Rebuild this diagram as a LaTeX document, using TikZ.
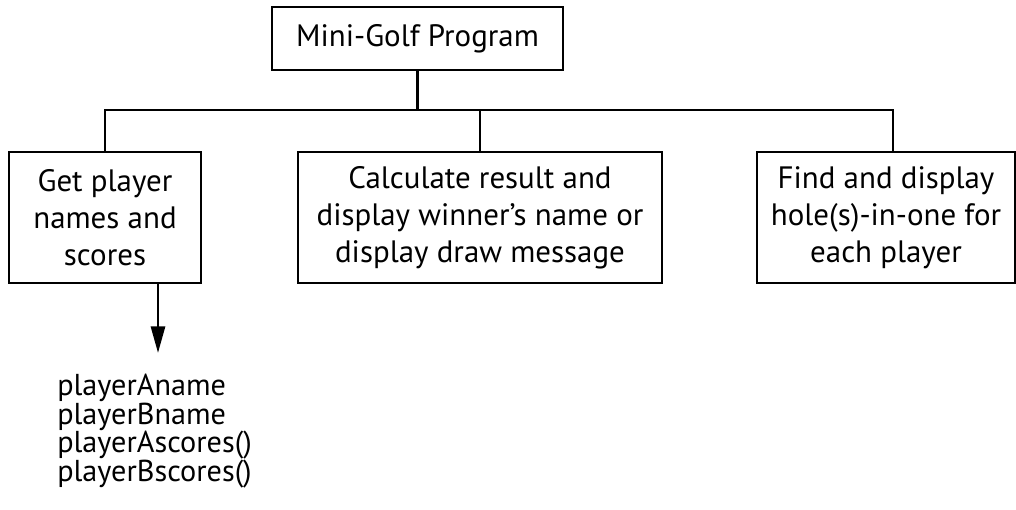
\documentclass[tikz,border=0pt]{standalone}
\usepackage{fontspec}
\setmainfont{PT Sans}
\usetikzlibrary{arrows.meta, positioning}
\tikzset{
  box/.style  = {draw, line width=1.4pt, align=center, inner sep=0pt,
                 font=\fontsize{22}{26.2}\selectfont},
  conn/.style = {line width=2pt},
  arr/.style  = {conn, -{Triangle[length=19pt, width=10pt]}},
  vlist/.style= {align=left, inner sep=0pt,
                 font={\fontsize{21.5}{20.2}\selectfont\lineskiplimit=-20pt\relax}},
}

\begin{document}
\begin{tikzpicture}[x=0.025cm, y=-0.025cm]
\useasboundingbox (0,0) rectangle (1016,509);
\node[box, minimum width=7.275cm, minimum height=1.575cm] (prog) at (417.5,38.5) {Mini-Golf Program};
\node[box, minimum width=4.8cm, minimum height=3.275cm] (getnames) at (105,217.5)
  {Get player\\names and\\scores};
\node[box, minimum width=9.1cm, minimum height=3.275cm] (calcres) at (480,217.5)
  {Calculate result and\\display winner’s name or\\display draw message};
\node[box, minimum width=6.45cm, minimum height=3.275cm] (findhole) at (886,217.5)
  {Find and display\\hole(s)-in-one for\\each player};
\coordinate (busL) at (105,110);
\coordinate (busR) at (893,110);
\coordinate (listtip) at (158,353);
\node[vlist, anchor=north west] (vars) at (57,374)
  {playerAname\\playerBname\\playerAscores()\\playerBscores()};
% structure lines
\draw[conn] (prog.south) -- (prog.south |- busL);
\draw[conn] (getnames.north) -- (busL) -- (busR) -- (busR |- findhole.north);
\draw[conn] (calcres.north) -- (calcres.north |- busL);
% data flow
\draw[arr] (getnames.south -| listtip) -- (listtip);
\end{tikzpicture}
\end{document}
